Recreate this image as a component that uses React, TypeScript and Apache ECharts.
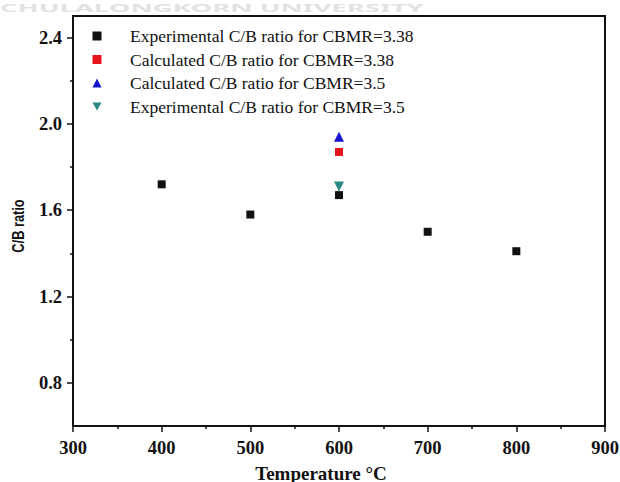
import React, { useEffect, useRef } from "react";
import * as echarts from "echarts";

// Reaction temperature (°C) and measured / calculated C/B ratios
const temperatures = [400, 500, 600, 700, 800];
const expRatio338 = [1.72, 1.58, 1.67, 1.5, 1.41];
const calcTemp = [600];
const calcRatio338 = [1.87];
const calcRatio35 = [1.94];
const expRatio35 = [1.71];

const xTicks = [300, 400, 500, 600, 700, 800, 900];
const yMajorTicks = [0.8, 1.2, 1.6, 2.0, 2.4];
const yMinorTicks = [1.0, 1.4, 1.8, 2.2];

const seriesNames = [
  "Experimental C/B ratio for CBMR=3.38",
  "Calculated C/B ratio for CBMR=3.38",
  "Calculated C/B ratio for CBMR=3.5",
  "Experimental C/B ratio for CBMR=3.5",
];

const serif = '"Liberation Serif", "Times New Roman", serif';
const downTriangle = "path://M0,0 L10,0 L5,9 Z";

const pairs = (xs: number[], ys: number[]) => ys.map((y, i) => [xs[i], y]);

export default function App() {
  const ref = useRef<HTMLDivElement>(null);

  useEffect(() => {
    if (!ref.current) return;
    const chart = echarts.init(ref.current, null, { renderer: "svg" });

    const labelStyle = {
      fontFamily: serif,
      fontWeight: "bold" as const,
      fontSize: 18.5,
      color: "#111",
    };

    chart.setOption({
      animation: false,
      backgroundColor: "#fff",
      grid: {
        left: 73,
        right: 15,
        top: 16,
        bottom: 56,
        outerBoundsMode: "none",
        show: true,
        borderColor: "#111",
        borderWidth: 2,
      },
      graphic: [
        {
          type: "text",
          x: 0,
          y: 2,
          scaleX: 2.5,
          silent: true,
          style: {
            text: "CHULALONGKORN UNIVERSITY",
            font: 'bold 11px "Noto Sans", sans-serif',
            fill: "#e2e2e2",
            verticalAlign: "top",
          },
        },
        {
          // y-axis title, slightly condensed along its length
          type: "text",
          x: 18,
          y: 226,
          rotation: Math.PI / 2,
          scaleX: 0.8,
          silent: true,
          style: {
            text: "C/B ratio",
            font: 'bold 16px "Liberation Sans", Arial, sans-serif',
            fill: "#111",
            align: "center",
            verticalAlign: "middle",
          },
        },
      ],
      legend: {
        orient: "vertical",
        left: 87.5,
        top: 22,
        itemWidth: 9,
        itemHeight: 9,
        itemGap: 5.5,
        textStyle: {
          fontFamily: serif,
          fontSize: 17.5,
          color: "#111",
          padding: [0, 0, 0, 23.5],
        },
        data: [
          { name: seriesNames[0] },
          { name: seriesNames[1] },
          { name: seriesNames[2] },
          { name: seriesNames[3], icon: downTriangle },
        ],
      },
      xAxis: {
        type: "value",
        min: xTicks[0],
        max: xTicks[xTicks.length - 1],
        interval: 100,
        name: "Temperature °C",
        nameLocation: "middle",
        nameGap: 37.5,
        nameTextStyle: { ...labelStyle, fontSize: 19, padding: [0, 36, 0, 0] },
        axisLine: { show: true, lineStyle: { color: "#111", width: 2 } },
        axisTick: { show: true, inside: false, length: 6, lineStyle: { color: "#111", width: 1.5 } },
        minorTick: { show: true, splitNumber: 2, length: 3, lineStyle: { color: "#111", width: 1.5 } },
        axisLabel: { ...labelStyle, margin: 12 },
        splitLine: { show: false },
      },
      yAxis: [
        {
          type: "value",
          min: 0.6,
          max: 2.5,
          axisLine: { show: true, lineStyle: { color: "#111", width: 2 } },
          axisTick: {
            show: true,
            length: 6,
            customValues: yMajorTicks,
            lineStyle: { color: "#111", width: 1.5 },
          },
          axisLabel: {
            ...labelStyle,
            margin: 11,
            customValues: yMajorTicks,
            formatter: (v: number) => v.toFixed(1),
          },
          splitLine: { show: false },
        },
        {
          type: "value",
          min: 0.6,
          max: 2.5,
          position: "left",
          axisLine: { show: false },
          axisTick: {
            show: true,
            length: 3,
            customValues: yMinorTicks,
            lineStyle: { color: "#111", width: 1.5 },
          },
          axisLabel: { show: false },
          splitLine: { show: false },
        },
      ],
      series: [
        {
          name: seriesNames[0],
          type: "scatter",
          symbol: "rect",
          symbolSize: 8,
          itemStyle: { color: "#111", opacity: 1 },
          data: pairs(temperatures, expRatio338),
        },
        {
          name: seriesNames[1],
          type: "scatter",
          symbol: "rect",
          symbolSize: 8,
          itemStyle: { color: "#e8141a", opacity: 1 },
          data: pairs(calcTemp, calcRatio338),
        },
        {
          name: seriesNames[2],
          type: "scatter",
          symbol: "triangle",
          symbolSize: 10,
          itemStyle: { color: "#1414d2", opacity: 1 },
          data: pairs(calcTemp, calcRatio35),
        },
        {
          name: seriesNames[3],
          type: "scatter",
          symbol: "triangle",
          symbolRotate: 180,
          symbolSize: 10,
          itemStyle: { color: "#2a8a86", opacity: 1 },
          data: pairs(calcTemp, expRatio35),
        },
      ],
    });

    return () => chart.dispose();
  }, []);

  return (
    <div
      ref={ref}
      style={{ position: "fixed", left: 0, top: 0, width: 620, height: 482 }}
    />
  );
}
